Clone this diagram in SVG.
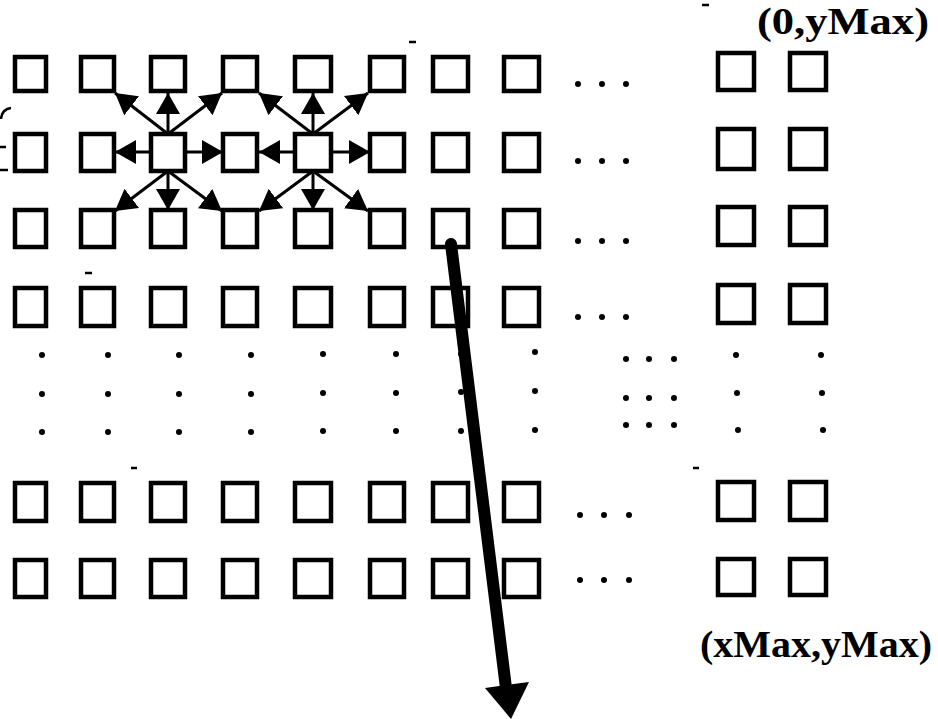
<svg xmlns="http://www.w3.org/2000/svg" width="938" height="719" viewBox="0 0 938 719">
  <defs>
    <style>
      .cell { fill: #fff; stroke: #000; stroke-width: 4.5; }
      .link { stroke: #000; stroke-width: 3; fill: none; marker-end: url(#head); }
      .dot { fill: #000; }
      .label { font-family: "Liberation Serif", "Times New Roman", serif; font-weight: bold; font-size: 38px; fill: #000; }
      .mark { stroke: #000; stroke-width: 2.5; fill: none; }
    </style>
    <marker id="head" markerUnits="userSpaceOnUse" markerWidth="24" markerHeight="26" refX="21" refY="12" orient="auto">
      <path d="M0,0 L21,12 L0,24 Z" fill="#000"/>
    </marker>
    <circle id="d" r="3" class="dot"/>
  </defs>
  <rect width="938" height="719" fill="#fff"/>

  <!-- stray marks along the left margin and in the gaps -->
  <g id="marks">
    <path class="mark" d="M11,108 Q2,109 1,119"/>
    <path class="mark" d="M0,147 L6,147"/>
    <path class="mark" d="M0,170 L8,170"/>
    <path class="mark" d="M409,42 L416,42" stroke-width="1.5"/>
    <path class="mark" d="M702,5 L709,5" stroke-width="1.5"/>
    <path class="mark" d="M85,273 L92,273" stroke-width="1.5"/>
    <path class="mark" d="M131,468 L137,468" stroke-width="1.5"/>
    <path class="mark" d="M693,468 L699,468" stroke-width="1.5"/>
  </g>

  <!-- row 1 -->
  <g id="n-r1-c1"><rect class="cell" x="15" y="57" width="31" height="34"/></g>
  <g id="n-r1-c2"><rect class="cell" x="81" y="57" width="33" height="34"/></g>
  <g id="n-r1-c3"><rect class="cell" x="151" y="57" width="34" height="34"/></g>
  <g id="n-r1-c4"><rect class="cell" x="223" y="57" width="34" height="34"/></g>
  <g id="n-r1-c5"><rect class="cell" x="295" y="57" width="36" height="34"/></g>
  <g id="n-r1-c6"><rect class="cell" x="370" y="57" width="34" height="34"/></g>
  <g id="n-r1-c7"><rect class="cell" x="433" y="57" width="35" height="34"/></g>
  <g id="n-r1-c8"><rect class="cell" x="504" y="57" width="35" height="34"/></g>
  <g id="n-r1-c9"><rect class="cell" x="718" y="53" width="36" height="37"/></g>
  <g id="n-r1-c10"><rect class="cell" x="790" y="53" width="36" height="37"/></g>

  <!-- row 2 -->
  <g id="n-r2-c1"><rect class="cell" x="15" y="134" width="31" height="37"/></g>
  <g id="n-r2-c2"><rect class="cell" x="81" y="134" width="33" height="37"/></g>
  <g id="n-r2-c3"><rect class="cell" x="151" y="134" width="34" height="37"/></g>
  <g id="n-r2-c4"><rect class="cell" x="223" y="134" width="34" height="37"/></g>
  <g id="n-r2-c5"><rect class="cell" x="295" y="134" width="36" height="37"/></g>
  <g id="n-r2-c6"><rect class="cell" x="370" y="134" width="34" height="37"/></g>
  <g id="n-r2-c7"><rect class="cell" x="433" y="134" width="35" height="37"/></g>
  <g id="n-r2-c8"><rect class="cell" x="504" y="134" width="35" height="37"/></g>
  <g id="n-r2-c9"><rect class="cell" x="718" y="129" width="36" height="40"/></g>
  <g id="n-r2-c10"><rect class="cell" x="790" y="129" width="36" height="40"/></g>

  <!-- row 3 -->
  <g id="n-r3-c1"><rect class="cell" x="15" y="210" width="31" height="37"/></g>
  <g id="n-r3-c2"><rect class="cell" x="81" y="210" width="33" height="37"/></g>
  <g id="n-r3-c3"><rect class="cell" x="151" y="210" width="34" height="37"/></g>
  <g id="n-r3-c4"><rect class="cell" x="223" y="210" width="34" height="37"/></g>
  <g id="n-r3-c5"><rect class="cell" x="295" y="210" width="36" height="37"/></g>
  <g id="n-r3-c6"><rect class="cell" x="370" y="210" width="34" height="37"/></g>
  <g id="n-r3-c7"><rect class="cell" x="433" y="210" width="35" height="37"/></g>
  <g id="n-r3-c8"><rect class="cell" x="504" y="210" width="35" height="37"/></g>
  <g id="n-r3-c9"><rect class="cell" x="718" y="207" width="36" height="38"/></g>
  <g id="n-r3-c10"><rect class="cell" x="790" y="207" width="36" height="38"/></g>

  <!-- row 4 -->
  <g id="n-r4-c1"><rect class="cell" x="15" y="288" width="31" height="38"/></g>
  <g id="n-r4-c2"><rect class="cell" x="81" y="288" width="33" height="38"/></g>
  <g id="n-r4-c3"><rect class="cell" x="151" y="288" width="34" height="38"/></g>
  <g id="n-r4-c4"><rect class="cell" x="223" y="288" width="34" height="38"/></g>
  <g id="n-r4-c5"><rect class="cell" x="295" y="288" width="36" height="38"/></g>
  <g id="n-r4-c6"><rect class="cell" x="370" y="288" width="34" height="38"/></g>
  <g id="n-r4-c7"><rect class="cell" x="433" y="288" width="35" height="38"/></g>
  <g id="n-r4-c8"><rect class="cell" x="504" y="288" width="35" height="38"/></g>
  <g id="n-r4-c9"><rect class="cell" x="718" y="285" width="36" height="38"/></g>
  <g id="n-r4-c10"><rect class="cell" x="790" y="285" width="36" height="38"/></g>

  <!-- row yMax-1 -->
  <g id="n-r5-c1"><rect class="cell" x="15" y="483" width="31" height="38"/></g>
  <g id="n-r5-c2"><rect class="cell" x="81" y="483" width="33" height="38"/></g>
  <g id="n-r5-c3"><rect class="cell" x="151" y="483" width="34" height="38"/></g>
  <g id="n-r5-c4"><rect class="cell" x="223" y="483" width="34" height="38"/></g>
  <g id="n-r5-c5"><rect class="cell" x="295" y="483" width="36" height="38"/></g>
  <g id="n-r5-c6"><rect class="cell" x="370" y="483" width="34" height="38"/></g>
  <g id="n-r5-c7"><rect class="cell" x="433" y="483" width="35" height="38"/></g>
  <g id="n-r5-c8"><rect class="cell" x="504" y="483" width="35" height="38"/></g>
  <g id="n-r5-c9"><rect class="cell" x="718" y="482" width="36" height="38"/></g>
  <g id="n-r5-c10"><rect class="cell" x="790" y="482" width="36" height="38"/></g>

  <!-- row yMax -->
  <g id="n-r6-c1"><rect class="cell" x="15" y="560" width="31" height="37"/></g>
  <g id="n-r6-c2"><rect class="cell" x="81" y="560" width="33" height="37"/></g>
  <g id="n-r6-c3"><rect class="cell" x="151" y="560" width="34" height="37"/></g>
  <g id="n-r6-c4"><rect class="cell" x="223" y="560" width="34" height="37"/></g>
  <g id="n-r6-c5"><rect class="cell" x="295" y="560" width="36" height="37"/></g>
  <g id="n-r6-c6"><rect class="cell" x="370" y="560" width="34" height="37"/></g>
  <g id="n-r6-c7"><rect class="cell" x="433" y="560" width="35" height="37"/></g>
  <g id="n-r6-c8"><rect class="cell" x="504" y="560" width="35" height="37"/></g>
  <g id="n-r6-c9"><rect class="cell" x="718" y="559" width="36" height="36"/></g>
  <g id="n-r6-c10"><rect class="cell" x="790" y="559" width="36" height="36"/></g>

  <!-- horizontal ellipses between column 8 and column xMax-1 -->
  <g id="ellipsis-h">
    <use href="#d" x="578" y="84"/><use href="#d" x="602" y="84"/><use href="#d" x="626" y="84"/>
    <use href="#d" x="578" y="161"/><use href="#d" x="602" y="161"/><use href="#d" x="626" y="161"/>
    <use href="#d" x="578" y="241"/><use href="#d" x="602" y="241"/><use href="#d" x="626" y="241"/>
    <use href="#d" x="578" y="317"/><use href="#d" x="602" y="317"/><use href="#d" x="626" y="317"/>
    <use href="#d" x="580" y="515"/><use href="#d" x="604" y="515"/><use href="#d" x="629" y="515"/>
    <use href="#d" x="580" y="580"/><use href="#d" x="604" y="580"/><use href="#d" x="629" y="580"/>
  </g>

  <!-- vertical ellipses under each column -->
  <g id="ellipsis-v">
    <use href="#d" x="42" y="355"/><use href="#d" x="42" y="394"/><use href="#d" x="42" y="432"/>
    <use href="#d" x="108" y="355"/><use href="#d" x="108" y="394"/><use href="#d" x="108" y="432"/>
    <use href="#d" x="179" y="355"/><use href="#d" x="179" y="394"/><use href="#d" x="179" y="432"/>
    <use href="#d" x="251" y="355"/><use href="#d" x="251" y="394"/><use href="#d" x="251" y="432"/>
    <use href="#d" x="323" y="354"/><use href="#d" x="323" y="393"/><use href="#d" x="323" y="431"/>
    <use href="#d" x="396" y="354"/><use href="#d" x="396" y="393"/><use href="#d" x="396" y="431"/>
    <use href="#d" x="461" y="354"/><use href="#d" x="461" y="392"/><use href="#d" x="461" y="431"/>
    <use href="#d" x="535" y="352"/><use href="#d" x="535" y="391"/><use href="#d" x="535" y="430"/>
    <use href="#d" x="736" y="355"/><use href="#d" x="737" y="393"/><use href="#d" x="738" y="430"/>
    <use href="#d" x="821" y="355"/><use href="#d" x="822" y="393"/><use href="#d" x="823" y="430"/>
  </g>

  <!-- diagonal block of dots -->
  <g id="ellipsis-d">
    <use href="#d" x="626" y="359"/><use href="#d" x="649" y="359"/><use href="#d" x="674" y="359"/>
    <use href="#d" x="626" y="398"/><use href="#d" x="649" y="398"/><use href="#d" x="674" y="398"/>
    <use href="#d" x="626" y="425"/><use href="#d" x="649" y="425"/><use href="#d" x="674" y="425"/>
  </g>

  <!-- neighbour links from the two active cells, plus the long sweep arrow -->
  <g id="connectors">
    <line class="link" x1="168" y1="134" x2="168" y2="93"/>
    <line class="link" x1="168" y1="134" x2="115" y2="93"/>
    <line class="link" x1="168" y1="134" x2="222" y2="93"/>
    <line class="link" x1="151" y1="152" x2="115" y2="152"/>
    <line class="link" x1="185" y1="152" x2="223" y2="152"/>
    <line class="link" x1="168" y1="171" x2="168" y2="210"/>
    <line class="link" x1="168" y1="171" x2="115" y2="211"/>
    <line class="link" x1="168" y1="171" x2="222" y2="211"/>

    <line class="link" x1="313" y1="134" x2="313" y2="93"/>
    <line class="link" x1="313" y1="134" x2="259" y2="93"/>
    <line class="link" x1="313" y1="134" x2="368" y2="93"/>
    <line class="link" x1="295" y1="152" x2="259" y2="152"/>
    <line class="link" x1="331" y1="152" x2="370" y2="152"/>
    <line class="link" x1="313" y1="171" x2="313" y2="210"/>
    <line class="link" x1="313" y1="171" x2="259" y2="211"/>
    <line class="link" x1="313" y1="171" x2="368" y2="211"/>

    <g id="sweep">
      <line x1="451" y1="244" x2="506" y2="688" stroke="#000" stroke-width="12" stroke-linecap="round"/>
      <polygon points="485,688 529,682 511,719" fill="#000"/>
    </g>
  </g>

  <g id="corner-labels">
    <text class="label" x="757" y="34" textLength="172" lengthAdjust="spacingAndGlyphs">(0,yMax)</text>
    <text class="label" x="700" y="657" textLength="232" lengthAdjust="spacingAndGlyphs">(xMax,yMax)</text>
  </g>
</svg>
